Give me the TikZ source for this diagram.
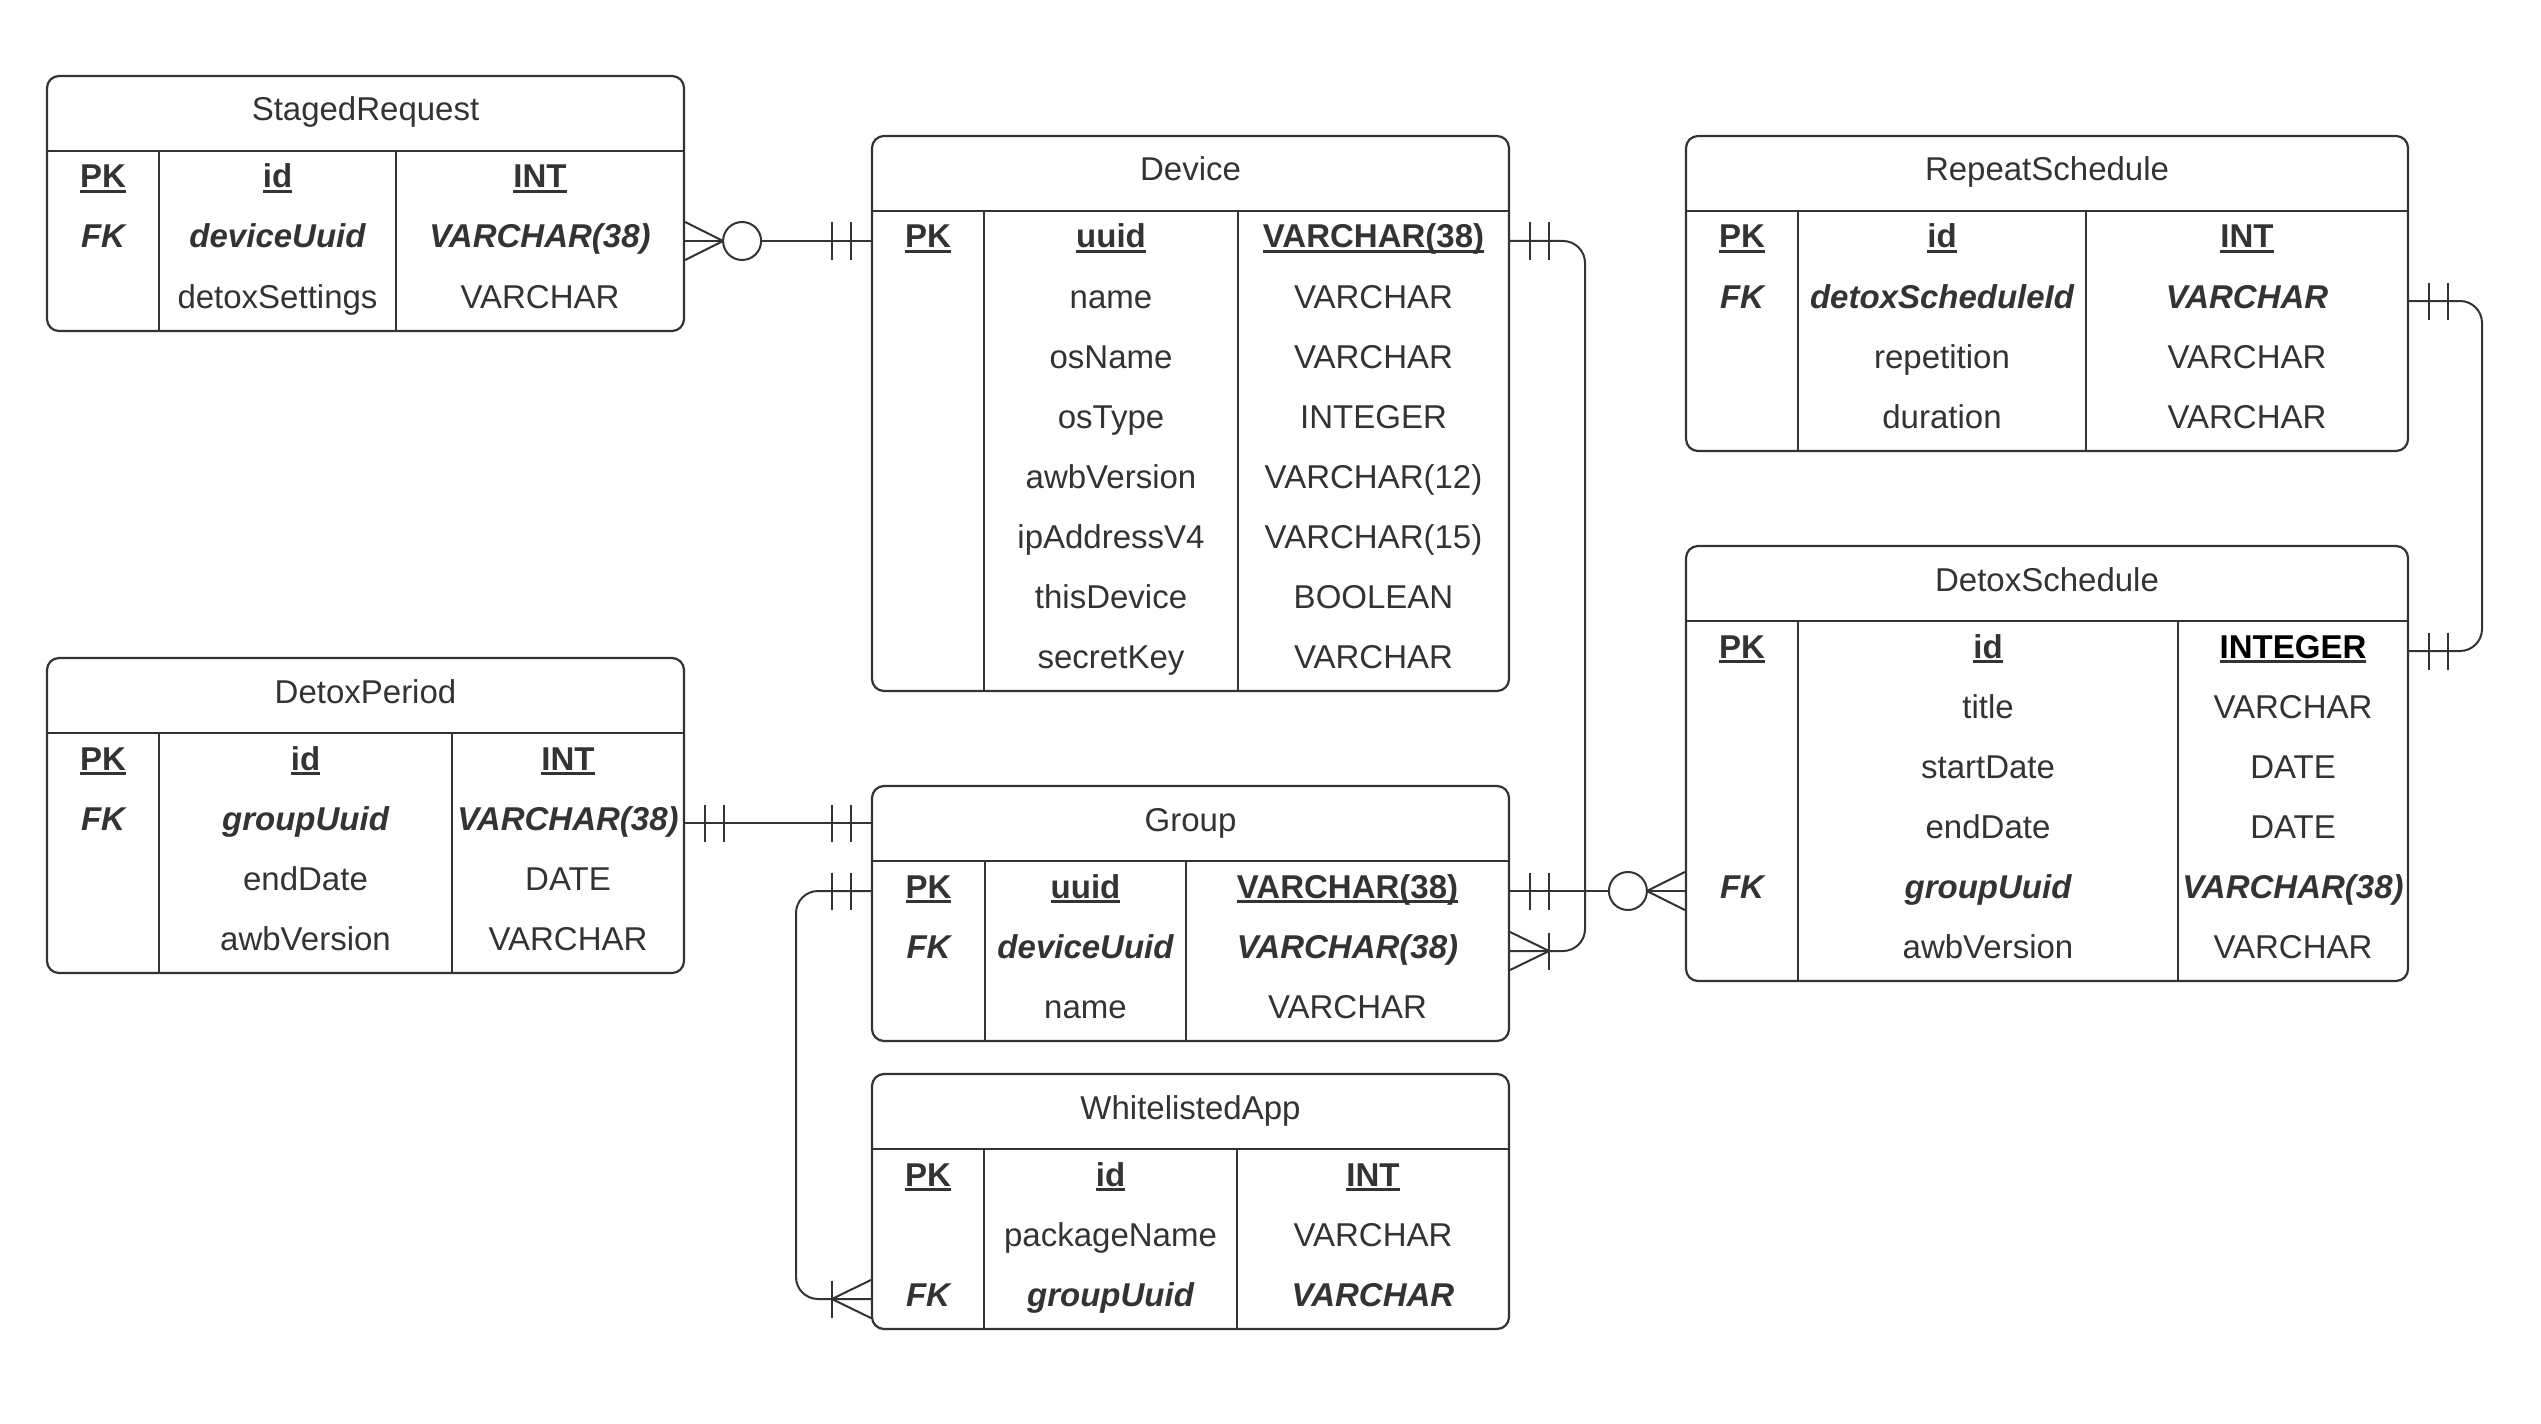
\documentclass[tikz,border=0pt]{standalone}
\usepackage{fontspec}
\setmainfont{Liberation Sans}
\definecolor{ink}{HTML}{333333}

% underlined text with a fixed rule position
\newsavebox\ulbx
\newcommand\ulbox[1]{\sbox\ulbx{#1}\rlap{\rule[-2.3pt]{\wd\ulbx}{1.5pt}}\usebox\ulbx}
\newcommand\pkt[1]{\ulbox{\bfseries #1}}
\newcommand\fkt[1]{{\bfseries\itshape #1}}
\newcommand\nrt[1]{#1}

\tikzset{
  tablebox/.style={draw=ink, line width=1.1pt, rounded corners=6pt, fill=white, inner sep=0pt},
  gridline/.style={draw=ink, line width=1.1pt},
  cell/.style={inner sep=0pt, anchor=base, text=ink, font=\fontsize{16.5}{19}\selectfont},
  rel/.style={draw=ink, line width=1pt},
}

% #1 name, #2 left, #3 right, #4 top, #5 header rule, #6 divider 1, #7 divider 2, #8 rows, #9 title
\newcommand\ertable[9]{%
  \pgfmathsetmacro\tbot{#5+60*#8}%
  \node[tablebox, minimum width={(#3-#2)*0.5pt}, minimum height={(\tbot-#4)*0.5pt}]
    (#1) at ({(#2+#3)/2},{(#4+\tbot)/2}) {};
  \coordinate (#1-h) at ({(#2+#3)/2},{(#4+#5)/2});
  \node[cell] (#1-t) at ({(#2+#3)/2},{(#4+#5)/2+7.5}) {#9};
  \coordinate (#1-c1) at ({(#2+#6)/2},#5);
  \coordinate (#1-c2) at ({(#6+#7)/2},#5);
  \coordinate (#1-c3) at ({(#7+#3)/2},#5);
  \draw[gridline] (#1.west |- #1-c1) -- (#1.east |- #1-c1);
  \draw[gridline] (#6,#5) -- (#6,\tbot);
  \draw[gridline] (#7,#5) -- (#7,\tbot);
  \foreach \k in {1,...,#8}{\coordinate (#1-\k) at ({(#2+#3)/2},{#5+60*\k-30});}
}

% #1 table, #2 row, #3 format, #4 key, #5 field, #6 type
\newcommand\erow[6]{%
  \node[cell, yshift=-3.5pt] (#1-#2-k) at (#1-c1 |- #1-#2) {#3{#4}};
  \node[cell, yshift=-3.5pt] (#1-#2-f) at (#1-c2 |- #1-#2) {#3{#5}};
  \node[cell, yshift=-3.5pt] (#1-#2-y) at (#1-c3 |- #1-#2) {#3{#6}};
}

% relationship ends; #1 point on the table edge, #2 direction away from the table (1 or -1)
\newcommand\twobars[2]{%
  \draw[rel] (#1) ++({(#2)*19.5},-18.5) -- ++(0,37);
  \draw[rel] (#1) ++({(#2)*39},-18.5) -- ++(0,37);
}
\newcommand\crowbar[2]{%
  \draw[rel] (#1) ++(0,-19) -- ++({(#2)*39},19) -- ++({0-(#2)*39},19);
  \draw[rel] (#1) ++({(#2)*39},-18.5) -- ++(0,37);
}
\newcommand\crowring[2]{%
  \draw[rel] (#1) ++(0,-19) -- ++({(#2)*38},19) -- ++({0-(#2)*38},19);
  \draw[rel, fill=white] (#1) ++({(#2)*57},0) circle[radius=9.5pt];
}

\begin{document}
\begin{tikzpicture}[x=0.5pt, y=-0.5pt]
\fill[white] (0,0) rectangle (2541,1423);
\useasboundingbox (0,0) rectangle (2541,1423);

% ---------- tables ----------
\ertable{sr}{47}{684}{76}{151}{159}{396}{3}{StagedRequest}
\erow{sr}{1}{\pkt}{PK}{id}{INT}
\erow{sr}{2}{\fkt}{FK}{deviceUuid}{VARCHAR(38)}
\erow{sr}{3}{\nrt}{}{detoxSettings}{VARCHAR}

\ertable{dev}{872}{1509}{136}{211}{984}{1238}{8}{Device}
\erow{dev}{1}{\pkt}{PK}{uuid}{VARCHAR(38)}
\erow{dev}{2}{\nrt}{}{name}{VARCHAR}
\erow{dev}{3}{\nrt}{}{osName}{VARCHAR}
\erow{dev}{4}{\nrt}{}{osType}{INTEGER}
\erow{dev}{5}{\nrt}{}{awbVersion}{VARCHAR(12)}
\erow{dev}{6}{\nrt}{}{ipAddressV4}{VARCHAR(15)}
\erow{dev}{7}{\nrt}{}{thisDevice}{BOOLEAN}
\erow{dev}{8}{\nrt}{}{secretKey}{VARCHAR}

\ertable{rs}{1686}{2408}{136}{211}{1798}{2086}{4}{RepeatSchedule}
\erow{rs}{1}{\pkt}{PK}{id}{INT}
\erow{rs}{2}{\fkt}{FK}{detoxScheduleId}{VARCHAR}
\erow{rs}{3}{\nrt}{}{repetition}{VARCHAR}
\erow{rs}{4}{\nrt}{}{duration}{VARCHAR}

\ertable{ds}{1686}{2408}{546}{621}{1798}{2178}{6}{DetoxSchedule}
\erow{ds}{1}{\pkt}{PK}{id}{\color{black}INTEGER}
\erow{ds}{2}{\nrt}{}{title}{VARCHAR}
\erow{ds}{3}{\nrt}{}{startDate}{DATE}
\erow{ds}{4}{\nrt}{}{endDate}{DATE}
\erow{ds}{5}{\fkt}{FK}{groupUuid}{VARCHAR(38)}
\erow{ds}{6}{\nrt}{}{awbVersion}{VARCHAR}

\ertable{dp}{47}{684}{658}{733}{159}{452}{4}{DetoxPeriod}
\erow{dp}{1}{\pkt}{PK}{id}{INT}
\erow{dp}{2}{\fkt}{FK}{groupUuid}{VARCHAR(38)}
\erow{dp}{3}{\nrt}{}{endDate}{DATE}
\erow{dp}{4}{\nrt}{}{awbVersion}{VARCHAR}

\ertable{grp}{872}{1509}{786}{861}{985}{1186}{3}{Group}
\erow{grp}{1}{\pkt}{PK}{uuid}{VARCHAR(38)}
\erow{grp}{2}{\fkt}{FK}{deviceUuid}{VARCHAR(38)}
\erow{grp}{3}{\nrt}{}{name}{VARCHAR}

\ertable{wa}{872}{1509}{1074}{1149}{984}{1237}{3}{WhitelistedApp}
\erow{wa}{1}{\pkt}{PK}{id}{INT}
\erow{wa}{2}{\nrt}{}{packageName}{VARCHAR}
\erow{wa}{3}{\fkt}{FK}{groupUuid}{VARCHAR}

% ---------- relationships ----------
\coordinate (busA) at (1585,0);
\coordinate (busB) at (796,0);
\coordinate (busC) at (2482,0);

% StagedRequest.deviceUuid -> Device.uuid
\draw[rel] (sr.east |- sr-2) -- (dev.west |- dev-1);
\crowring{sr.east |- sr-2}{1}
\twobars{dev.west |- dev-1}{-1}

% Device.uuid -> Group.deviceUuid
\draw[rel, rounded corners=11pt] (dev.east |- dev-1) -| (busA |- grp-2) -- (grp.east |- grp-2);
\twobars{dev.east |- dev-1}{1}
\crowbar{grp.east |- grp-2}{1}

% DetoxPeriod.groupUuid -> Group
\draw[rel] (dp.east |- dp-2) -- (grp.west |- dp-2);
\twobars{dp.east |- dp-2}{1}
\twobars{grp.west |- dp-2}{-1}

% Group.uuid -> WhitelistedApp.groupUuid
\draw[rel, rounded corners=11pt] (grp.west |- grp-1) -| (busB |- wa-3) -- (wa.west |- wa-3);
\twobars{grp.west |- grp-1}{-1}
\crowbar{wa.west |- wa-3}{-1}

% Group.uuid -> DetoxSchedule.groupUuid
\draw[rel] (grp.east |- grp-1) -- (ds.west |- ds-5);
\twobars{grp.east |- grp-1}{1}
\crowring{ds.west |- ds-5}{-1}

% DetoxSchedule.id -> RepeatSchedule.detoxScheduleId
\draw[rel, rounded corners=11pt] (rs.east |- rs-2) -| (busC |- ds-1) -- (ds.east |- ds-1);
\twobars{rs.east |- rs-2}{1}
\twobars{ds.east |- ds-1}{1}
\end{tikzpicture}
\end{document}
